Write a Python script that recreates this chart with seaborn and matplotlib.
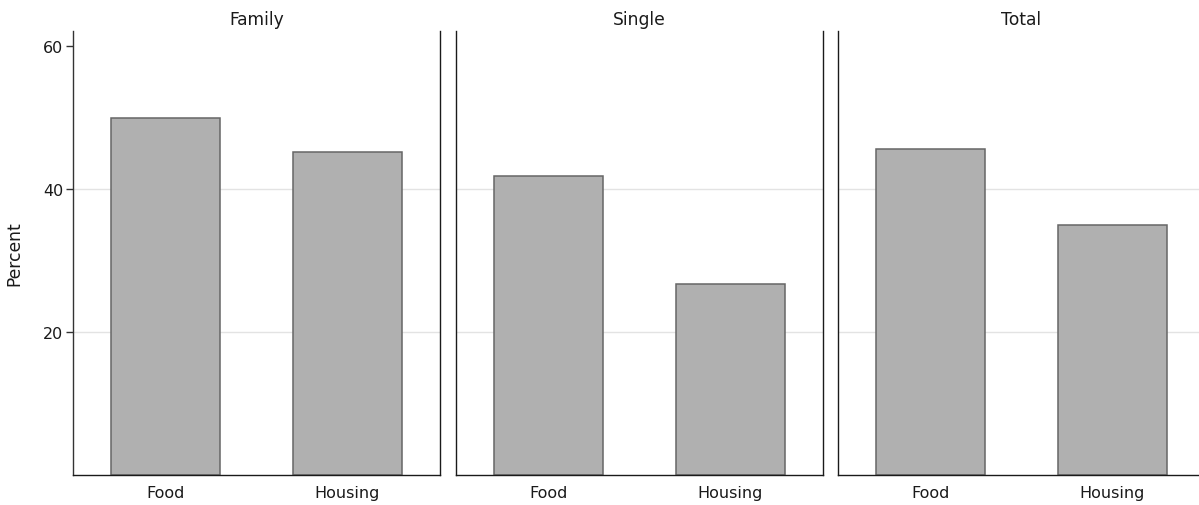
import numpy as np
import pandas as pd
import matplotlib
matplotlib.use("Agg")
import matplotlib.pyplot as plt
import seaborn as sns

# data
groups = ["Family", "Single", "Total"]
categories = ["Food", "Housing"]
food_pct = [50.0, 41.8, 45.6]
housing_pct = [45.2, 26.7, 35.0]

df = pd.DataFrame({
    "group": np.repeat(groups, 2),
    "category": categories * 3,
    "pct": [v for pair in zip(food_pct, housing_pct) for v in pair],
})

sns.set_style("white")
plt.rcParams["font.family"] = ["DejaVu Sans"]

W, H = 1199, 506
fig = plt.figure(figsize=(W / 100, H / 100), dpi=100)

# panel geometry in pixels (third panel runs past the right edge, as in the reference)
lefts = [73, 456, 838]
pw = 367
top, bottom = 32, 476

for i, g in enumerate(groups):
    ax = fig.add_axes([lefts[i] / W, 1 - bottom / H, pw / W, (bottom - top) / H])
    sub = df[df["group"] == g]
    sns.barplot(data=sub, x="category", y="pct", order=categories, color="#b0b0b0",
                edgecolor="#666666", linewidth=1.1, width=0.6, saturation=1, ax=ax, zorder=2)
    ax.set_xlim(-0.51, 1.51)
    ax.set_ylim(0, 62.1)
    for yv in [20, 40]:
        ax.axhline(yv, color="#e3e3e3", linewidth=1, zorder=0)
    ax.set_title(g, fontsize=12.3, color="#1a1a1a", pad=5)
    ax.set_xlabel("")
    for side in ["left", "right", "bottom"]:
        ax.spines[side].set_visible(True)
        ax.spines[side].set_color("#1a1a1a")
        ax.spines[side].set_linewidth(1)
    ax.spines["top"].set_visible(False)
    ax.tick_params(axis="x", length=0, pad=7, labelsize=11.5, labelcolor="#1a1a1a")
    if i == 0:
        ax.set_yticks([20, 40, 60])
        ax.tick_params(axis="y", left=True, length=5, width=1, color="#333333",
                       labelsize=11.5, labelcolor="#1a1a1a", pad=2)
        ax.set_ylabel("Percent", fontsize=12.3, color="#1a1a1a", labelpad=14)
        ax.spines["left"].set_color("#333333")
    else:
        ax.set_yticks([20, 40, 60])
        ax.tick_params(axis="y", left=False, labelleft=False)
        ax.set_ylabel("")

fig.savefig("out.png", dpi=100)
